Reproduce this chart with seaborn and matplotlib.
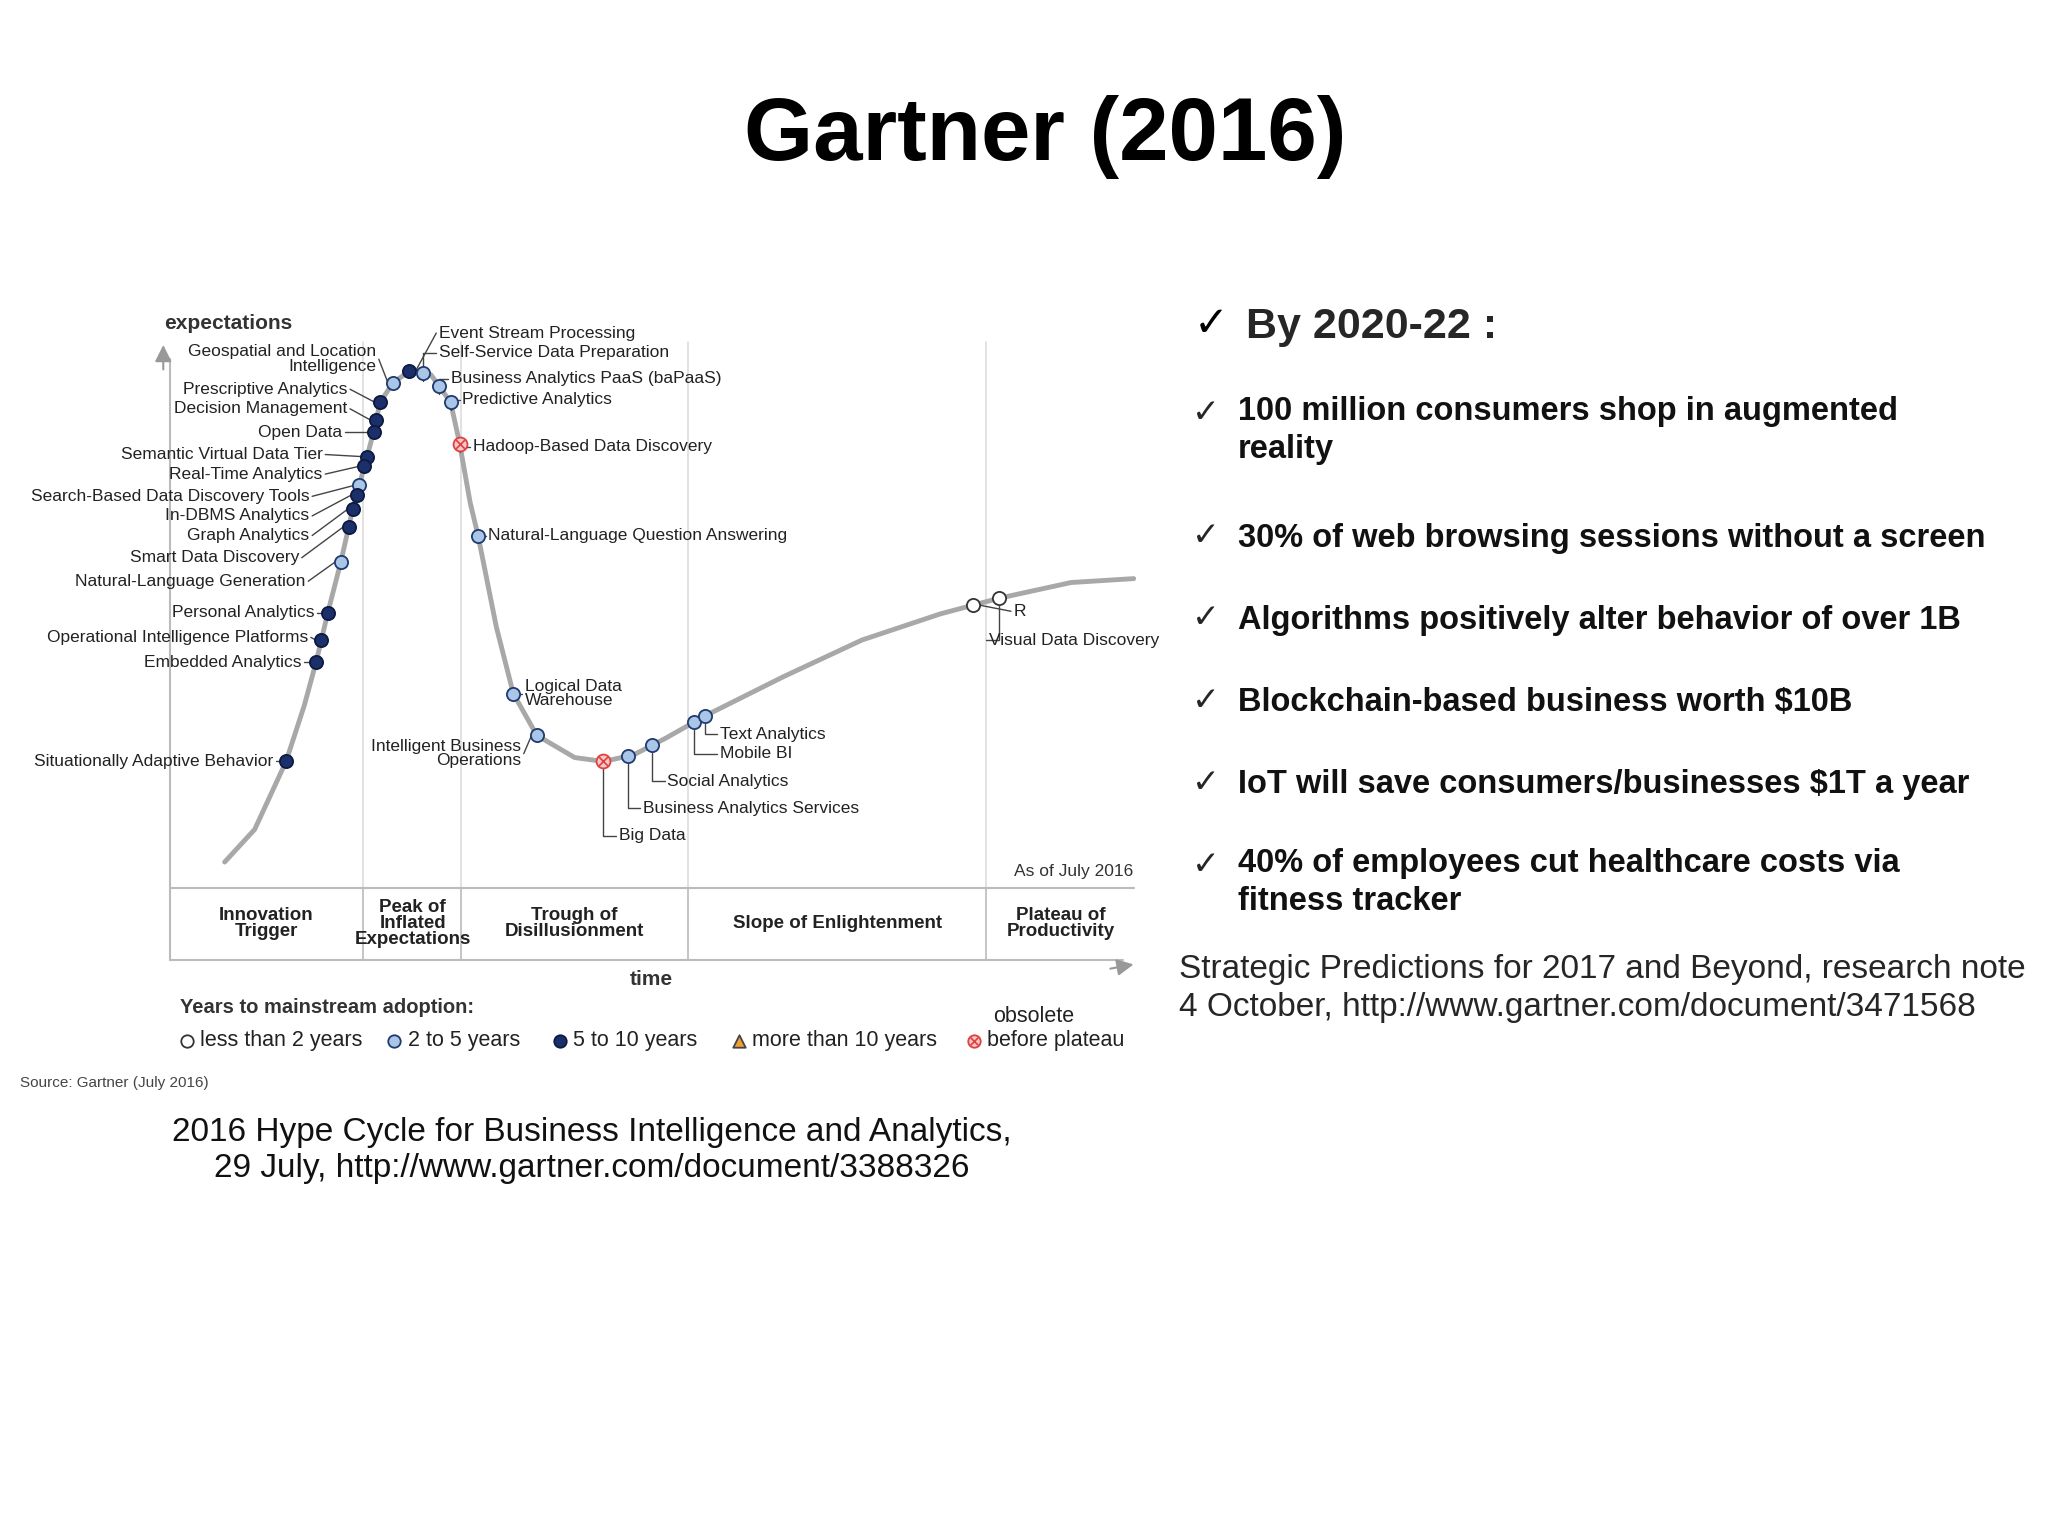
import matplotlib
matplotlib.use("Agg")
import matplotlib.pyplot as plt
import numpy as np
import seaborn as sns

sns.set_theme(style="white")
plt.rcParams["font.family"] = ["Liberation Sans", "DejaVu Sans"]

# hype curve shape (page coordinates of the source slide, 1568 x 1176)
curve_x = [172, 195, 219, 233, 242, 251, 261, 270, 279, 286, 291, 301, 315, 330, 345,
           352, 360, 366, 380, 393, 411, 440, 462, 485, 510, 540, 600, 660, 720, 765,
           820, 868]
curve_y = [660, 635, 583, 540, 507, 469, 430, 390, 357, 331, 308, 293, 283, 287, 308,
           340, 385, 410, 480, 531, 563, 580, 583, 578, 565, 548, 518, 490, 470, 458,
           446, 443]

# technologies: name, position on the time axis, years-to-adoption class
tech_names = [
    "Geospatial and Location\nIntelligence", "Prescriptive Analytics", "Decision Management",
    "Open Data", "Semantic Virtual Data Tier", "Real-Time Analytics",
    "Search-Based Data Discovery Tools", "In-DBMS Analytics", "Graph Analytics",
    "Smart Data Discovery", "Natural-Language Generation", "Personal Analytics",
    "Operational Intelligence Platforms", "Embedded Analytics", "Situationally Adaptive Behavior",
    "Event Stream Processing", "Self-Service Data Preparation", "Business Analytics PaaS (baPaaS)",
    "Predictive Analytics", "Hadoop-Based Data Discovery", "Natural-Language Question Answering",
    "Logical Data\nWarehouse", "Intelligent Business\nOperations", "Big Data",
    "Business Analytics Services", "Social Analytics", "Mobile BI", "Text Analytics",
    "R", "Visual Data Discovery",
]
tech_x = [301, 291, 288, 286, 281, 279, 275, 273, 270, 267, 261, 251, 246, 242, 219,
          313, 324, 336, 345, 352, 366, 393, 411, 462, 481, 499, 531, 540, 745, 765]
tech_cls = ["2-5", "5-10", "5-10", "5-10", "5-10", "5-10", "2-5", "5-10", "5-10", "5-10",
            "2-5", "5-10", "5-10", "5-10", "5-10", "5-10", "2-5", "2-5", "2-5", "obs",
            "2-5", "2-5", "2-5", "obs", "2-5", "2-5", "2-5", "2-5", "<2", "<2"]
# label anchor (x, y, side) for each technology
label_pos = [
    (288, 275, "l"), (266, 298, "l"), (266, 313, "l"), (262, 331, "l"), (247, 348, "l"),
    (247, 363, "l"), (237, 380, "l"), (237, 395, "l"), (237, 410, "l"), (229, 427, "l"),
    (234, 445, "l"), (241, 469, "l"), (236, 488, "l"), (231, 507, "l"), (209, 583, "l"),
    (336, 255, "r"), (336, 270, "r"), (345, 290, "r"), (354, 306, "r"), (362, 342, "r"),
    (374, 410, "r"), (402, 531, "r"), (399, 577, "l"), (474, 640, "r"), (492, 619, "r"),
    (511, 598, "r"), (551, 577, "r"), (551, 562, "r"), (776, 468, "r"), (757, 490, "r"),
]

legend_names = ["less than 2 years", "2 to 5 years", "5 to 10 years",
                "more than 10 years", "before plateau"]
phase_names = ["Innovation\nTrigger", "Peak of\nInflated\nExpectations", "Trough of\nDisillusionment",
               "Slope of Enlightenment", "Plateau of\nProductivity"]
phase_x = [204, 316, 440, 641, 812]
phase_bounds = [278, 353, 527, 755]

bullets = [
    "100 million consumers shop in augmented\nreality",
    "30% of web browsing sessions without a screen",
    "Algorithms positively alter behavior of over 1B",
    "Blockchain-based business worth $10B",
    "IoT will save consumers/businesses $1T a year",
    "40% of employees cut healthcare costs via\nfitness tracker",
]
bullet_y = [318, 412, 475, 538, 601, 664]

style = {
    "<2": dict(facecolor="white", edgecolor="#333333"),
    "2-5": dict(facecolor="#a9c6e8", edgecolor="#1f3a6e"),
    "5-10": dict(facecolor="#1b2f6b", edgecolor="#0d1a40"),
    ">10": dict(facecolor="#f0a030", edgecolor="#444444"),
    "obs": dict(facecolor="#f4c8c8", edgecolor="#e04040"),
}

fig = plt.figure(figsize=(20.48, 15.36), dpi=100)
ax = fig.add_axes([0, 0, 1, 1])
ax.set_xlim(0, 1568)
ax.set_ylim(1176, 0)
ax.axis("off")

grey = "#bbbbbb"
# phase separators and band
for b in phase_bounds:
    ax.plot([b, b], [262, 680], color="#dddddd", lw=1.2, zorder=1)
    ax.plot([b, b], [680, 735], color=grey, lw=1.2, zorder=1)
ax.plot([130, 868], [680, 680], color=grey, lw=1.5)
ax.plot([130, 130], [275, 735], color=grey, lw=1.5)
ax.plot([130, 860], [735, 735], color=grey, lw=1.5)
ax.annotate("", xy=(125, 262), xytext=(125, 285),
            arrowprops=dict(arrowstyle="-|>", color="#999999", lw=1.5, mutation_scale=25))
ax.annotate("", xy=(870, 738), xytext=(848, 742),
            arrowprops=dict(arrowstyle="-|>", color="#999999", lw=1.5, mutation_scale=25))

sns.lineplot(x=curve_x, y=curve_y, ax=ax, color="#a8a8a8", lw=3.5, sort=False,
             estimator=None, zorder=2)

tech_y = np.interp(tech_x, curve_x, curve_y)
fs = 12.5
for name, x, y, c, (lx, ly, side) in zip(tech_names, tech_x, tech_y, tech_cls, label_pos):
    ax.scatter(x, y, s=100 if c == "obs" else 90, zorder=4, linewidths=1.3, **style[c])
    if c == "obs":
        ax.scatter(x, y, s=40, marker="x", color="#e04040", zorder=5, linewidths=1.2)
    if side == "l":
        ax.plot([lx + 2, x - 4], [ly, y], color="#444444", lw=1, zorder=3)
        ax.text(lx, ly, name, ha="right", va="center", fontsize=fs, color="#222222",
                linespacing=0.95)
    else:
        elbow = abs(lx - x) < 20 or ly > y + 20
        if elbow:
            ax.plot([x, x, lx - 2], [y + 6, ly, ly], color="#444444", lw=1, zorder=3)
        else:
            ax.plot([x + 5, lx - 2], [y, ly], color="#444444", lw=1, zorder=3)
        ax.text(lx, ly, name, ha="left", va="center", fontsize=fs, color="#222222",
                linespacing=0.95)

ax.text(175, 248, "expectations", ha="center", va="center", fontsize=15, weight="bold",
        color="#333333")
ax.text(499, 750, "time", ha="center", va="center", fontsize=15, weight="bold", color="#333333")
ax.text(868, 667, "As of July 2016", ha="right", va="center", fontsize=12.5, color="#333333")
for name, x in zip(phase_names, phase_x):
    ax.text(x, 707, name, ha="center", va="center", fontsize=13.5, weight="bold",
            color="#222222", linespacing=0.95)

# legend
ax.text(138, 771, "Years to mainstream adoption:", ha="left", va="center", fontsize=14.5,
        weight="bold", color="#333333")
leg_x = [143, 302, 429, 566, 746]
leg_cls = ["<2", "2-5", "5-10", ">10", "obs"]
for x, c, name in zip(leg_x, leg_cls, legend_names):
    mk = "^" if c == ">10" else "o"
    ax.scatter(x, 797, s=80, marker=mk, linewidths=1.3, zorder=4, **style[c])
    if c == "obs":
        ax.scatter(x, 797, s=30, marker="x", color="#e04040", linewidths=1.2, zorder=5)
    ax.text(x + 10, 797, name, ha="left", va="center", fontsize=15.5, color="#222222")
ax.text(760, 778, "obsolete", ha="left", va="center", fontsize=15.5, color="#222222")
ax.text(15, 829, "Source: Gartner (July 2016)", ha="left", va="center", fontsize=11,
        color="#444444")

ax.text(453, 881, "2016 Hype Cycle for Business Intelligence and Analytics,\n"
        "29 July, http://www.gartner.com/document/3388326", ha="center", va="center",
        fontsize=24, color="#111111", linespacing=1.2)

ax.text(800, 105, "Gartner (2016)", ha="center", va="center", fontsize=64, weight="bold",
        color="black")

ax.text(914, 248, "\u2713", ha="left", va="center", fontsize=30, color="black",
        family="DejaVu Sans")
ax.text(954, 250, "By 2020-22 :", ha="left", va="center", fontsize=31, weight="bold")
for text, y in zip(bullets, bullet_y):
    ax.text(913, y - 2, "\u2713", ha="left", va="center", fontsize=24, family="DejaVu Sans")
    two = "\n" in text
    ax.text(948, y - 15 if two else y, text, ha="left", va="top" if two else "center",
            fontsize=23.5, weight="bold", linespacing=1.3, color="#111111")
ax.text(903, 757, "Strategic Predictions for 2017 and Beyond, research note\n"
        "4 October, http://www.gartner.com/document/3471568", ha="left", va="center",
        fontsize=24, linespacing=1.3)

fig.savefig("out.png", dpi=100)
